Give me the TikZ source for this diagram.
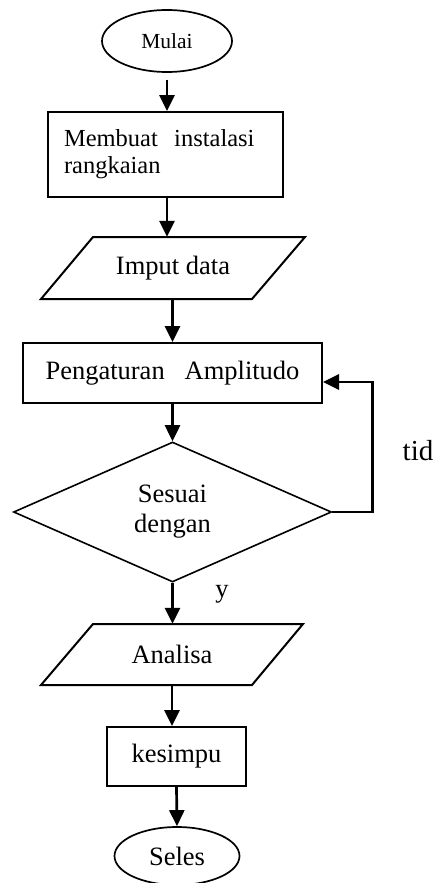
\documentclass[tikz,border=0pt]{standalone}
\usepackage{fontspec}
\setmainfont{Liberation Serif}
\usetikzlibrary{arrows.meta,shapes.geometric,calc}
\begin{document}
\begin{tikzpicture}[x=1pt,y=-1pt,
  box/.style={draw,line width=2pt,inner sep=0pt},
  term/.style={draw,ellipse,line width=1.7pt,inner sep=0pt},
  io/.style={inner sep=0pt},
  iobord/.style={line width=2pt,line join=miter},
  dec/.style={draw,diamond,line width=1.6pt,inner sep=0pt,align=center},
  flow/.style={line width=2.7pt,-{Triangle[length=16pt,width=15pt]}},
  txt/.style={font=\fontsize{26.5}{29}\selectfont}
]
\useasboundingbox (0,0) rectangle (441,883);
\fill[white] (0,0) rectangle (441,883);

\node[term,minimum width=130pt,minimum height=62pt,font=\fontsize{21.5}{24}\selectfont] (mulai) at (167,41) {Mulai};

\node[box,minimum width=235pt,minimum height=85pt,text width=203pt,align=left,font=\fontsize{24.5}{27}\selectfont] (inst) at (165.5,154.5) {Membuat\ \ instalasi\\rangkaian};

\node[io,minimum width=160pt,minimum height=62pt,txt] (input) at (173,268) {Imput data};
\draw[iobord] (93,237) -- (305,237) -- (252,299) -- (41,299) -- cycle;

\node[box,minimum width=299pt,minimum height=60pt,txt] (atur) at (172.5,373) {Pengaturan\ \ \ Amplitudo};

\node[dec,minimum width=318pt,minimum height=140pt,font=\fontsize{26.5}{30}\selectfont] (cek) at (172.5,512) {Sesuai\\dengan};

\node[io,minimum width=160pt,minimum height=61pt,txt] (anal) at (172,654.5) {Analisa};
\draw[iobord] (93,624) -- (303,624) -- (252,685) -- (41,685) -- cycle;

\node[box,minimum width=139pt,minimum height=59pt,txt] (simp) at (176.5,756.5) {kesimpu};

\node[term,minimum width=125pt,minimum height=58pt,txt] (seles) at (177,856) {Seles};

\node[font=\fontsize{29}{32}\selectfont,inner sep=0pt] (tid) at (418,451) {tid};
\node[txt,inner sep=0pt] (ylab) at (222,594) {y};

\draw[flow] ([yshift=-7pt]mulai.south) -- (mulai.south |- inst.north);
\draw[flow] (mulai.south |- inst.south) -- (mulai.south |- input.north);
\draw[flow] (atur.north |- input.south) -- (atur.north);
\draw[flow] (atur.south) -- (cek.north);
\draw[flow] (cek.south) -- (cek.south |- anal.north);
\draw[flow] (anal.south) -- (anal.south |- simp.north);
\draw[flow] (simp.south) -- (seles.north);
\draw[flow] (cek.east) -- ++(40,0) |- ([yshift=-9pt]atur.east);
\end{tikzpicture}
\end{document}
